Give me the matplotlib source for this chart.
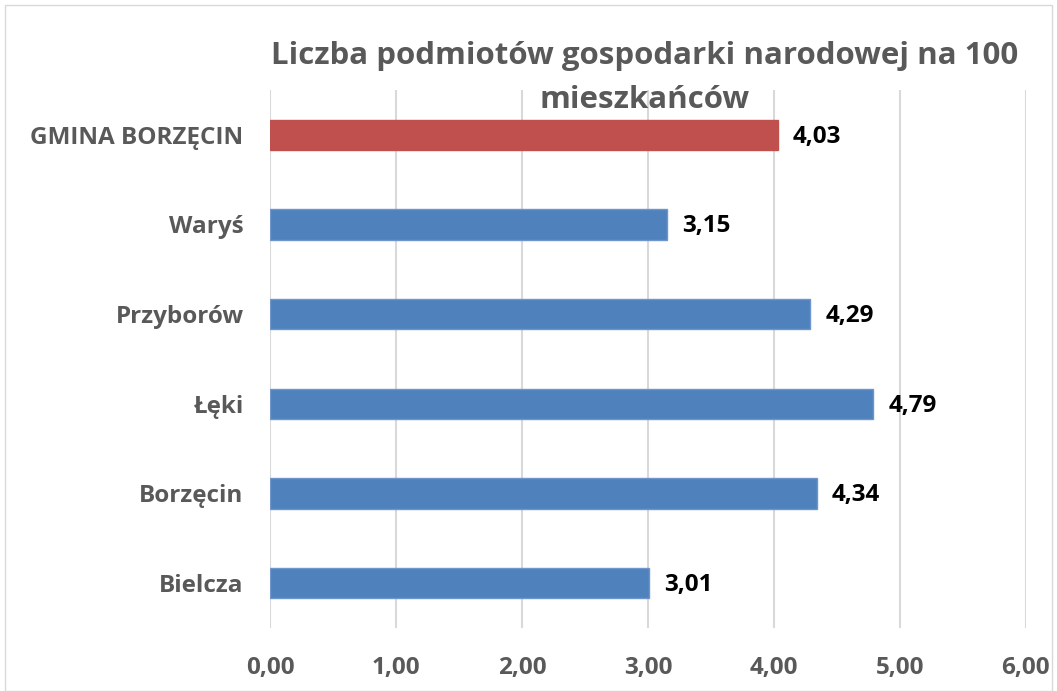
import matplotlib.pyplot as plt
from matplotlib.patches import Rectangle

categories = ['Bielcza', 'Borzęcin', 'Łęki', 'Przyborów', 'Waryś', 'GMINA BORZĘCIN']
values = [3.01, 4.34, 4.79, 4.29, 3.15, 4.03]
colors = ['#4F81BD'] * 5 + ['#C0504D']
edges = ['#6E96CC'] * 5 + ['#C0504D']
xticks = [0, 1, 2, 3, 4, 5, 6]
title = 'Liczba podmiotów gospodarki narodowej na 100\nmieszkańców'

plt.rcParams['font.family'] = ['Open Sans', 'DejaVu Sans']
grey = '#595959'

fig = plt.figure(figsize=(10.57, 6.91), dpi=100)
ax = fig.add_axes([0.2554, 0.0912, 0.7152, 0.7786])

y = list(range(len(categories)))
ax.barh(y, values, height=0.34, color=colors, edgecolor=edges, linewidth=1, zorder=3)
for yi, v in zip(y, values):
    ax.text(v + 0.12, yi - 0.02, f'{v:.2f}'.replace('.', ','), va='center', ha='left',
            fontsize=17.5, fontweight='bold', color='black')

ax.set_xlim(0, 6)
ax.set_ylim(-0.5, 5.5)
ax.set_xticks(xticks)
ax.set_xticklabels([f'{t:.2f}'.replace('.', ',') for t in xticks],
                   fontsize=17.5, fontweight='bold', color=grey)
ax.set_yticks(y)
ax.set_yticklabels(categories, fontsize=17.5, fontweight='bold', color=grey)
ax.tick_params(axis='both', length=0)
ax.tick_params(axis='x', pad=20)
ax.tick_params(axis='y', pad=19)
ax.grid(axis='x', color='#D9D9D9', linewidth=1.5, zorder=0)
for s in ax.spines.values():
    s.set_visible(False)

fig.text(0.61, 0.887, title, ha='center', va='center', fontsize=22.5,
         fontweight='bold', color=grey, linespacing=1.6)

fig.patches.append(Rectangle((0.005, 0.0), 0.99, 0.993, transform=fig.transFigure,
                             fill=False, edgecolor='#D9D9D9', linewidth=1))

fig.savefig('out.png', dpi=100)
